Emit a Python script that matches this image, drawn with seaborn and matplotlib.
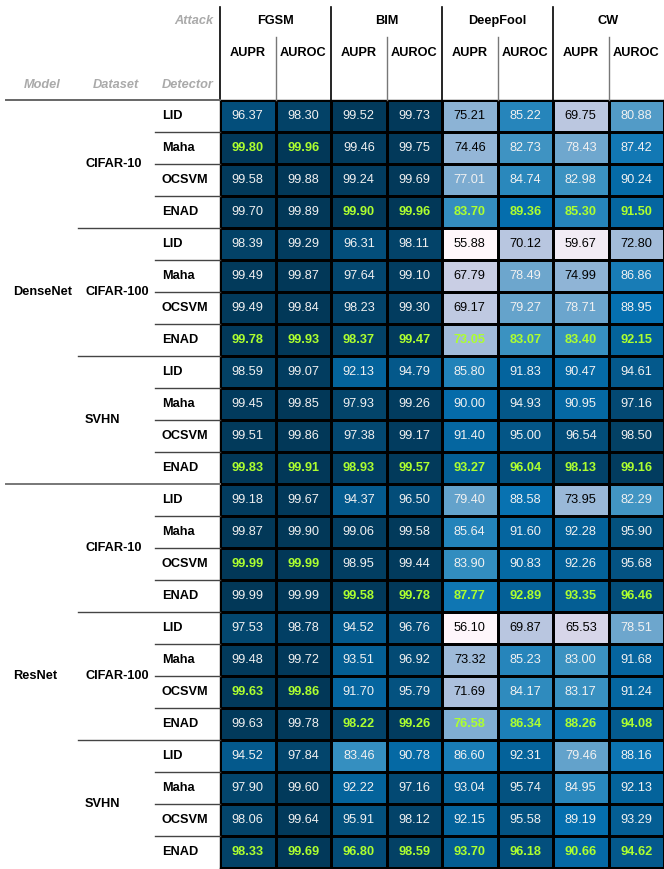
import numpy as np
import pandas as pd
import matplotlib.pyplot as plt
import seaborn as sns
from matplotlib.lines import Line2D
from matplotlib.colors import to_rgba

models = ['DenseNet', 'ResNet']
datasets = ['CIFAR-10', 'CIFAR-100', 'SVHN']
detectors = ['LID', 'Maha', 'OCSVM', 'ENAD']
attacks = ['FGSM', 'BIM', 'DeepFool', 'CW']
metrics = ['AUPR', 'AUROC']

densenet_cifar10 = [
    [96.37, 98.30, 99.52, 99.73, 75.21, 85.22, 69.75, 80.88],
    [99.80, 99.96, 99.46, 99.75, 74.46, 82.73, 78.43, 87.42],
    [99.58, 99.88, 99.24, 99.69, 77.01, 84.74, 82.98, 90.24],
    [99.70, 99.89, 99.90, 99.96, 83.70, 89.36, 85.30, 91.50],
]
densenet_cifar100 = [
    [98.39, 99.29, 96.31, 98.11, 55.88, 70.12, 59.67, 72.80],
    [99.49, 99.87, 97.64, 99.10, 67.79, 78.49, 74.99, 86.86],
    [99.49, 99.84, 98.23, 99.30, 69.17, 79.27, 78.71, 88.95],
    [99.78, 99.93, 98.37, 99.47, 73.05, 83.07, 83.40, 92.15],
]
densenet_svhn = [
    [98.59, 99.07, 92.13, 94.79, 85.80, 91.83, 90.47, 94.61],
    [99.45, 99.85, 97.93, 99.26, 90.00, 94.93, 90.95, 97.16],
    [99.51, 99.86, 97.38, 99.17, 91.40, 95.00, 96.54, 98.50],
    [99.83, 99.91, 98.93, 99.57, 93.27, 96.04, 98.13, 99.16],
]
resnet_cifar10 = [
    [99.18, 99.67, 94.37, 96.50, 79.40, 88.58, 73.95, 82.29],
    [99.87, 99.90, 99.06, 99.58, 85.64, 91.60, 92.28, 95.90],
    [99.99, 99.99, 98.95, 99.44, 83.90, 90.83, 92.26, 95.68],
    [99.99, 99.99, 99.58, 99.78, 87.77, 92.89, 93.35, 96.46],
]
resnet_cifar100 = [
    [97.53, 98.78, 94.52, 96.76, 56.10, 69.87, 65.53, 78.51],
    [99.48, 99.72, 93.51, 96.92, 73.32, 85.23, 83.00, 91.68],
    [99.63, 99.86, 91.70, 95.79, 71.69, 84.17, 83.17, 91.24],
    [99.63, 99.78, 98.22, 99.26, 76.58, 86.34, 88.26, 94.08],
]
resnet_svhn = [
    [94.52, 97.84, 83.46, 90.78, 86.60, 92.31, 79.46, 88.16],
    [97.90, 99.60, 92.22, 97.16, 93.04, 95.74, 84.95, 92.13],
    [98.06, 99.64, 95.91, 98.12, 92.15, 95.58, 89.19, 93.29],
    [98.33, 99.69, 96.80, 98.59, 93.70, 96.18, 90.66, 94.62],
]

blocks = [densenet_cifar10, densenet_cifar100, densenet_svhn,
          resnet_cifar10, resnet_cifar100, resnet_svhn]
values = np.vstack([np.array(b) for b in blocks])
idx = pd.MultiIndex.from_product([models, datasets, detectors])
cols = pd.MultiIndex.from_product([attacks, metrics])
df = pd.DataFrame(values, index=idx, columns=cols)

# best per (model, dataset) group and column (first max wins)
best = np.zeros(values.shape, dtype=bool)
for g in range(len(blocks)):
    sub = values[g * 4:(g + 1) * 4]
    for j in range(sub.shape[1]):
        best[g * 4 + np.argmax(sub[:, j]), j] = True

W, H = 664, 869
fig = plt.figure(figsize=(W / 100, H / 100), dpi=100)
plt.rcParams['font.family'] = ['Liberation Sans', 'DejaVu Sans']
FS = 9.2

x0, ytop, ybot = 220, 100, 868
ax = fig.add_axes([x0 / W, 1 - ybot / H, (W - x0) / W, (ybot - ytop) / H])
vmin, vmax = values.min(), values.max()
cmap = plt.get_cmap('PuBu')
sns.heatmap(df, ax=ax, cmap=cmap, vmin=vmin, vmax=vmax, cbar=False,
            annot=True, fmt='.2f', linewidths=0.8, linecolor='black',
            annot_kws={'fontsize': FS})
ax.set_xticks([])
ax.set_yticks([])
ax.set_xlabel('')
ax.set_ylabel('')


def lum(c):
    r, g, b = [x / 12.92 if x <= 0.04045 else ((x + 0.055) / 1.055) ** 2.4 for x in c[:3]]
    return 0.2126 * r + 0.7152 * g + 0.0722 * b


nrows, ncols = values.shape
for t in ax.texts:
    xx, yy = t.get_position()
    i, j = int(yy), int(xx)
    v = values[i, j]
    c = cmap((v - vmin) / (vmax - vmin))
    if best[i, j]:
        t.set_color('#adff2f')
        t.set_fontweight('bold')
    else:
        t.set_color('#f1f1f1' if lum(c) < 0.408 else '#000000')

for k in range(1, 4):
    ax.axvline(k * 2, color='black', lw=1.3)
for s in ax.spines.values():
    s.set_visible(True)
    s.set_color('black')
    s.set_linewidth(1.0)


def fx(px):
    return px / W


def fy(py):
    return 1 - py / H


def hline(x1, x2, y, color, lw):
    fig.add_artist(Line2D([fx(x1), fx(x2)], [fy(y), fy(y)], color=color, lw=lw))


def vline(x, y1, y2, color, lw):
    fig.add_artist(Line2D([fx(x), fx(x)], [fy(y1), fy(y2)], color=color, lw=lw))


colw = (W - x0) / 8
rowh = (ybot - ytop) / 24

# header
vline(x0, 7, ytop, 'black', 1.2)
for k in range(1, 4):
    vline(x0 + k * 2 * colw, 7, ytop, 'black', 1.2)
for k in range(4):
    vline(x0 + (k * 2 + 1) * colw, 37, ytop, '#777777', 1.0)
for k, a in enumerate(attacks):
    fig.text(fx(x0 + (k * 2 + 1) * colw), fy(21), a, ha='center', va='center',
             fontsize=FS, fontweight='bold')
    for m, name in enumerate(metrics):
        fig.text(fx(x0 + (k * 2 + m + 0.5) * colw), fy(53), name, ha='center',
                 va='center', fontsize=FS, fontweight='bold')

gray = '#aaaaaa'
fig.text(fx(213), fy(21), 'Attack', ha='right', va='center', fontsize=FS,
         style='italic', fontweight='bold', color=gray)
fig.text(fx(42), fy(85), 'Model', ha='center', va='center', fontsize=FS,
         style='italic', fontweight='bold', color=gray)
fig.text(fx(116), fy(85), 'Dataset', ha='center', va='center', fontsize=FS,
         style='italic', fontweight='bold', color=gray)
fig.text(fx(214), fy(85), 'Detector', ha='right', va='center', fontsize=FS,
         style='italic', fontweight='bold', color=gray)
hline(6, x0, ytop, '#666666', 1.4)

# row labels and separators
for r in range(24):
    yc = ytop + (r + 0.5) * rowh
    fig.text(fx(162), fy(yc), detectors[r % 4], ha='left', va='center',
             fontsize=FS, fontweight='bold')
    if r > 0:
        yb = ytop + r * rowh
        if r % 12 == 0:
            hline(6, x0, yb, '#777777', 1.4)
        elif r % 4 == 0:
            hline(78, x0, yb, '#444444', 1.0)
        else:
            hline(155, x0, yb, '#444444', 1.0)

for g in range(6):
    yc = ytop + (g * 4 + 2) * rowh
    fig.text(fx(85), fy(yc), datasets[g % 3], ha='left', va='center',
             fontsize=FS, fontweight='bold')
for mi, mname in enumerate(models):
    yc = ytop + (mi * 12 + 6) * rowh
    fig.text(fx(13), fy(yc), mname, ha='left', va='center', fontsize=FS,
             fontweight='bold')

fig.savefig('out.png', dpi=100)
